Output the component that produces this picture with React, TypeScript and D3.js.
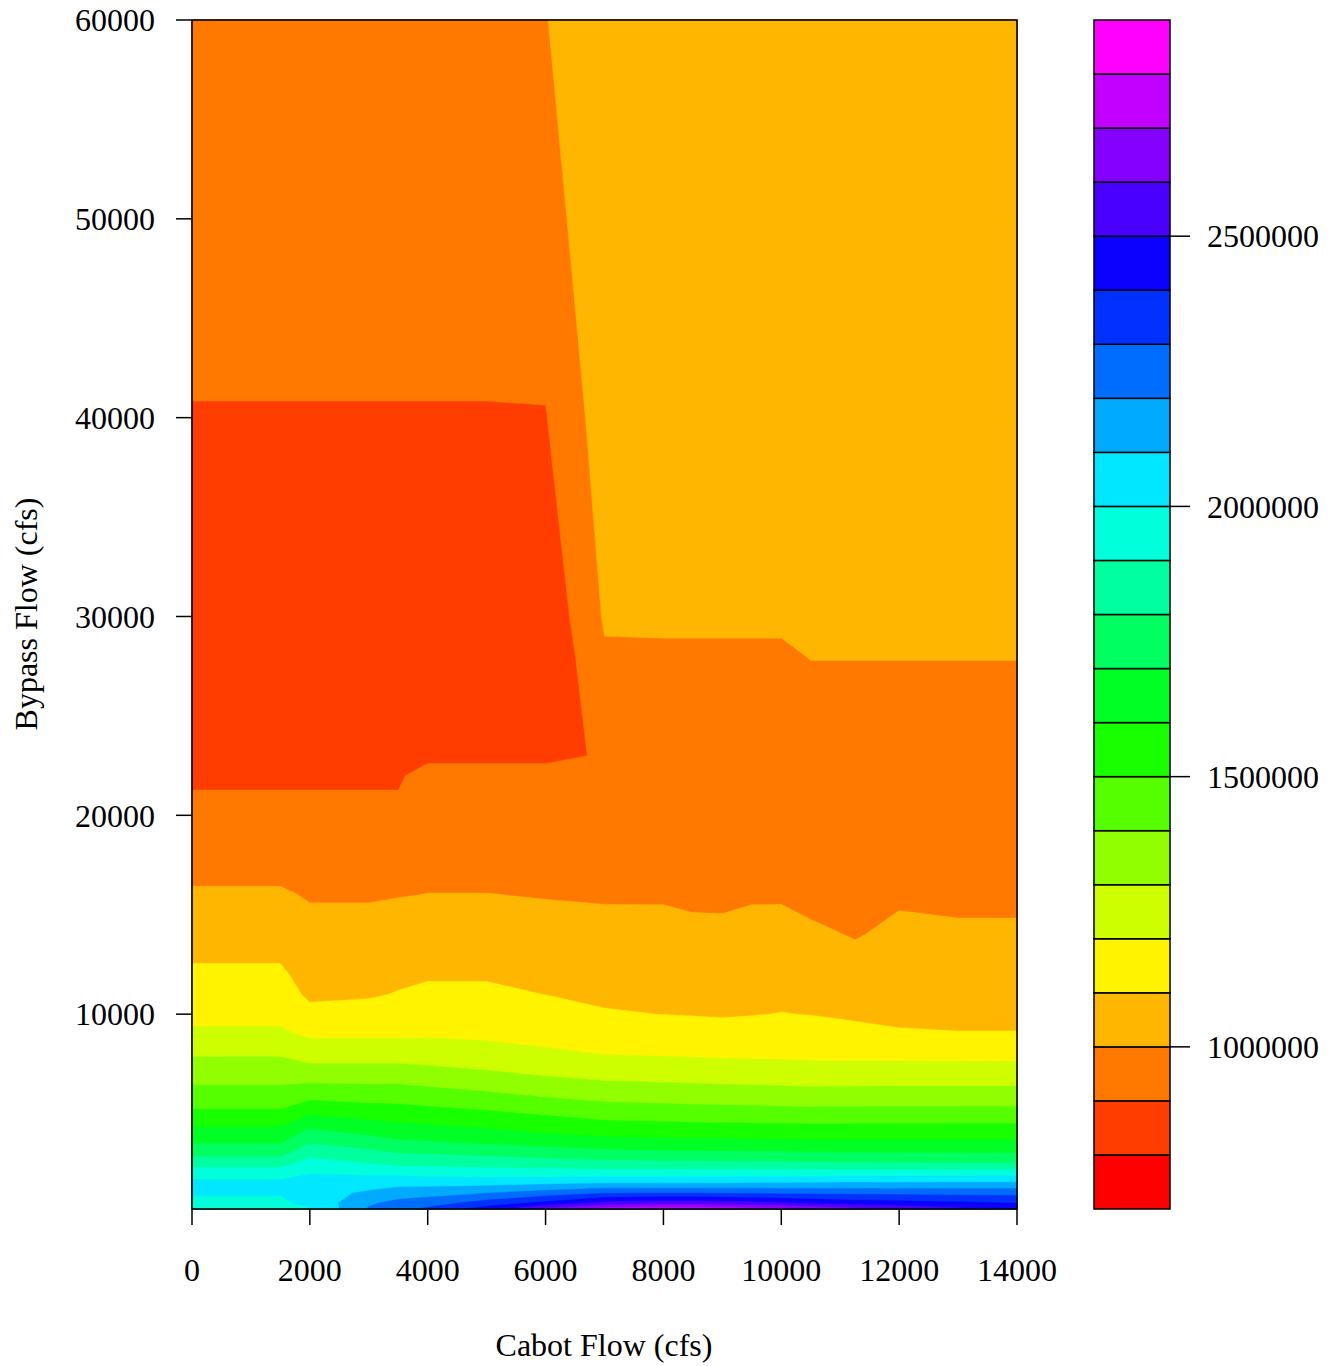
import React from "react";
import * as d3 from "d3";

// Grid of Cabot flow (x, cfs) and Bypass flow (y, cfs)
const cabotFlow = [0, 1500, 2000, 3000, 3500, 4000, 5000, 6000, 7000, 8000, 8500, 9000, 9500, 10000, 10500, 11000, 11250, 12000, 13000, 14000];
const bypassFlow = [200, 500, 1000, 1500, 2000, 2500, 3000, 3500, 4000, 5000, 6000, 7000, 8000, 9000, 10000, 11000, 12000, 13000, 14000, 15000, 16000, 17000, 20000, 22000, 23000, 28000, 30000, 40000, 50000, 60000];

// Values (thousands) for each Cabot flow column, ordered by bypassFlow
const zCabot0 = [1970, 1985, 2005, 2020, 1960, 1860, 1770, 1698, 1640, 1520, 1430, 1360, 1290, 1215, 1175, 1150, 1115, 1088, 1060, 1040, 1015, 980, 940, 877, 860, 840, 840, 896, 944, 965];
const zCabot1500 = [1970, 1985, 2005, 2020, 1960, 1860, 1770, 1698, 1640, 1520, 1430, 1360, 1290, 1215, 1175, 1150, 1115, 1088, 1060, 1040, 1015, 980, 940, 877, 860, 840, 840, 896, 944, 965];
const zCabot2000 = [1990, 2020, 2060, 2050, 1995, 1940, 1870, 1798, 1735, 1590, 1455, 1350, 1250, 1185, 1130, 1080, 1065, 1050, 1035, 1015, 990, 975, 940, 877, 860, 840, 840, 896, 944, 965];
const zCabot3000 = [2210, 2185, 2115, 2060, 1980, 1898, 1830, 1757, 1685, 1560, 1445, 1350, 1250, 1185, 1135, 1090, 1065, 1050, 1035, 1015, 990, 975, 940, 877, 860, 840, 840, 896, 944, 965];
const zCabot3500 = [2270, 2230, 2150, 2070, 1975, 1870, 1798, 1725, 1660, 1550, 1445, 1350, 1250, 1185, 1140, 1105, 1080, 1060, 1045, 1030, 995, 975, 940, 877, 860, 840, 840, 896, 944, 965];
const zCabot4000 = [2320, 2255, 2162, 2066, 1964, 1869, 1792, 1715, 1651, 1538, 1434, 1336, 1251, 1188, 1154, 1119, 1090, 1068, 1046, 1024, 1002, 980, 950, 972, 852, 830, 830, 896, 944, 965];
const zCabot5000 = [2450, 2343, 2199, 2067, 1956, 1858, 1775, 1694, 1631, 1517, 1411, 1314, 1235, 1182, 1150, 1118, 1090, 1068, 1046, 1024, 1002, 980, 950, 972, 852, 830, 830, 896, 944, 965];
const zCabot6000 = [2620, 2425, 2250, 2081, 1949, 1845, 1755, 1671, 1599, 1489, 1381, 1289, 1215, 1171, 1135, 1099, 1078, 1058, 1037, 1017, 995, 980, 950, 972, 852, 808, 825, 896, 960, 996];
const zCabot7000 = [2750, 2530, 2298, 2099, 1943, 1831, 1732, 1648, 1578, 1461, 1356, 1270, 1198, 1152, 1107, 1084, 1066, 1048, 1029, 1011, 990, 975, 955, 950, 920, 990, 1010, 1050, 1071, 1089];
const zCabot8000 = [2780, 2560, 2300, 2098, 1945, 1825, 1725, 1640, 1570, 1452, 1348, 1262, 1192, 1146, 1099, 1081, 1063, 1045, 1027, 1010, 990, 975, 955, 950, 950, 990, 1012, 1050, 1070, 1085];
const zCabot8500 = [2780, 2560, 2300, 2098, 1945, 1822, 1722, 1637, 1566, 1448, 1344, 1258, 1188, 1139, 1096, 1077, 1058, 1040, 1021, 1002, 985, 972, 955, 950, 950, 990, 1012, 1050, 1070, 1085];
const zCabot9000 = [2760, 2550, 2295, 2099, 1945, 1820, 1720, 1635, 1564, 1445, 1340, 1255, 1185, 1132, 1093, 1074, 1056, 1038, 1020, 1001, 985, 972, 955, 950, 950, 990, 1012, 1050, 1070, 1085];
const zCabot9500 = [2740, 2530, 2290, 2105, 1947, 1818, 1718, 1632, 1562, 1443, 1337, 1253, 1183, 1137, 1097, 1079, 1062, 1045, 1027, 1010, 990, 975, 955, 950, 950, 990, 1012, 1050, 1070, 1085];
const zCabot10000 = [2720, 2510, 2285, 2105, 1948, 1815, 1715, 1630, 1560, 1440, 1333, 1250, 1180, 1141, 1102, 1083, 1065, 1047, 1029, 1011, 990, 975, 955, 950, 950, 990, 1012, 1050, 1070, 1085];
const zCabot10500 = [2680, 2480, 2280, 2108, 1950, 1812, 1712, 1627, 1557, 1436, 1330, 1245, 1176, 1136, 1098, 1078, 1057, 1037, 1017, 995, 975, 965, 950, 950, 955, 1002, 1020, 1050, 1070, 1080];
const zCabot11000 = [2650, 2460, 2278, 2110, 1952, 1810, 1710, 1627, 1557, 1438, 1332, 1246, 1175, 1128, 1091, 1069, 1046, 1024, 1002, 980, 965, 958, 950, 950, 955, 1002, 1020, 1050, 1070, 1080];
const zCabot11250 = [2630, 2450, 2276, 2111, 1953, 1809, 1709, 1627, 1558, 1438, 1332, 1247, 1175, 1123, 1087, 1064, 1040, 1017, 994, 975, 963, 956, 950, 950, 955, 1002, 1020, 1050, 1070, 1080];
const zCabot12000 = [2580, 2440, 2275, 2112, 1955, 1806, 1706, 1626, 1559, 1439, 1333, 1247, 1174, 1107, 1085, 1069, 1053, 1036, 1020, 1004, 985, 970, 950, 950, 955, 1002, 1020, 1050, 1070, 1080];
const zCabot13000 = [2520, 2420, 2272, 2114, 1958, 1803, 1704, 1625, 1560, 1440, 1333, 1247, 1173, 1103, 1084, 1066, 1049, 1032, 1015, 997, 975, 960, 945, 950, 955, 1002, 1020, 1050, 1070, 1080];
const zCabot14000 = [2470, 2398, 2270, 2116, 1961, 1801, 1702, 1625, 1560, 1440, 1333, 1247, 1172, 1103, 1084, 1066, 1049, 1032, 1015, 997, 975, 960, 945, 950, 955, 1002, 1020, 1050, 1070, 1080];

const zColumns = [zCabot0, zCabot1500, zCabot2000, zCabot3000, zCabot3500, zCabot4000, zCabot5000, zCabot6000, zCabot7000, zCabot8000, zCabot8500, zCabot9000, zCabot9500, zCabot10000, zCabot10500, zCabot11000, zCabot11250, zCabot12000, zCabot13000, zCabot14000];

const levelBreaks = [700000, 800000, 900000, 1000000, 1100000, 1200000, 1300000, 1400000, 1500000, 1600000, 1700000, 1800000, 1900000, 2000000, 2100000, 2200000, 2300000, 2400000, 2500000, 2600000, 2700000, 2800000, 2900000];
const colorbarTicks = [1000000, 1500000, 2000000, 2500000];
const xTicks = [0, 2000, 4000, 6000, 8000, 10000, 12000, 14000];
const yTicks = [10000, 20000, 30000, 40000, 50000, 60000];

const FONT = "'Liberation Serif', 'Times New Roman', serif";

export default function App() {
  const W = 1335, H = 1366;
  const left = 192, right = 1017, top = 20, bottom = 1209;
  const x = d3.scaleLinear().domain([0, 14000]).range([left, right]);
  const y = d3.scaleLinear().domain([200, 60000]).range([bottom, top]);

  const nx = cabotFlow.length, ny = bypassFlow.length;
  const values: number[] = new Array(nx * ny);
  for (let j = 0; j < ny; j++) {
    for (let i = 0; i < nx; i++) {
      values[j * nx + i] = zColumns[i][j] * 1000;
    }
  }
  const ix = d3.scaleLinear().domain(d3.range(nx)).range(cabotFlow).clamp(true);
  const iy = d3.scaleLinear().domain(d3.range(ny)).range(bypassFlow).clamp(true);

  const nBands = levelBreaks.length - 1;
  const color = (i: number) => d3.hsl((i * 300) / (nBands - 1), 1, 0.5).formatHex();

  const contours = d3.contours().size([nx, ny]).smooth(true).thresholds(levelBreaks.slice(0, -1))(values);
  const proj = d3.geoTransform({
    point: function (px: number, py: number) {
      (this as any).stream.point(x(ix(px - 0.5)), y(iy(py - 0.5)));
    },
  });
  const path = d3.geoPath(proj as any);

  // colorbar
  const cbLeft = 1094, cbRight = 1170;
  const cb = d3.scaleLinear().domain([levelBreaks[0], levelBreaks[levelBreaks.length - 1]]).range([bottom, top]);

  return (
    <svg width={W} height={H} style={{ position: "absolute", left: 0, top: 0, background: "#fff" }} fontFamily={FONT}>
      <rect x={0} y={0} width={W} height={H} fill="#fff" />
      <g>
        {contours.map((c, k) => (
          <path key={k} d={path(c as any) || ""} fill={color(k)} fillRule="evenodd" stroke={color(k)} strokeWidth={0.4} />
        ))}
      </g>
      <rect x={left} y={top} width={right - left} height={bottom - top} fill="none" stroke="#000" strokeWidth={1.6} />
      {/* x axis */}
      <g>
        {xTicks.map((t) => (
          <g key={t}>
            <line x1={x(t)} x2={x(t)} y1={bottom} y2={bottom + 16} stroke="#000" strokeWidth={1.5} />
            <text x={x(t)} y={1281} fontSize={32} textAnchor="middle" fill="#000">{t}</text>
          </g>
        ))}
      </g>
      {/* y axis */}
      <g>
        {yTicks.map((t) => (
          <g key={t}>
            <line x1={left - 16} x2={left} y1={y(t)} y2={y(t)} stroke="#000" strokeWidth={1.5} />
            <text x={155} y={y(t)} dy="0.35em" fontSize={32} textAnchor="end" fill="#000">{t}</text>
          </g>
        ))}
      </g>
      <text x={604} y={1356} fontSize={32} textAnchor="middle" fill="#000">Cabot Flow (cfs)</text>
      <text transform="translate(37,614) rotate(-90)" fontSize={32} textAnchor="middle" fill="#000">Bypass Flow (cfs)</text>
      {/* colorbar */}
      <g>
        {levelBreaks.slice(0, -1).map((lv, i) => (
          <rect key={lv} x={cbLeft} y={cb(levelBreaks[i + 1])} width={cbRight - cbLeft} height={cb(lv) - cb(levelBreaks[i + 1])} fill={color(i)} stroke="#000" strokeWidth={1.5} />
        ))}
        {colorbarTicks.map((t) => (
          <g key={t}>
            <line x1={cbRight} x2={cbRight + 20} y1={cb(t)} y2={cb(t)} stroke="#000" strokeWidth={1.5} />
            <text x={1207} y={cb(t)} dy="0.35em" fontSize={32} textAnchor="start" fill="#000">{t}</text>
          </g>
        ))}
      </g>
    </svg>
  );
}
